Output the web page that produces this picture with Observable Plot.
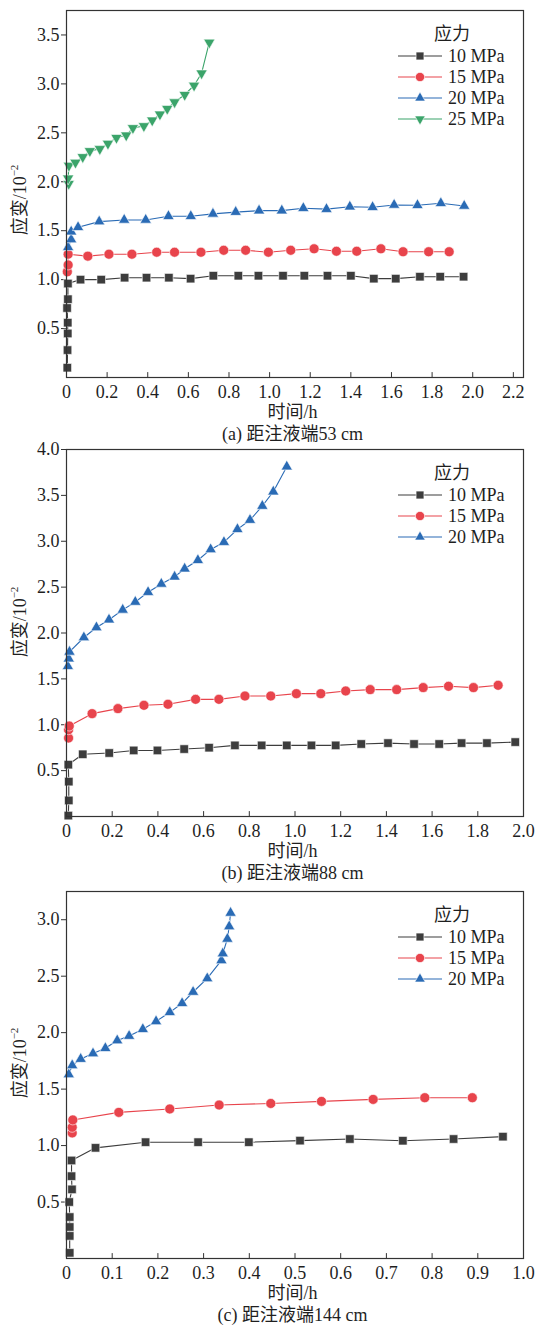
<!DOCTYPE html>
<html><head><meta charset="utf-8">
<script src="https://cdn.jsdelivr.net/npm/d3@7"></script>
<script src="https://cdn.jsdelivr.net/npm/@observablehq/plot@0.6"></script>
<style>
body{margin:0;background:#fff;}
#root{position:relative;width:538px;height:1327px;font-family:"Liberation Serif","Noto Sans CJK SC",serif;color:#1f1f1f;background:#fff;overflow:hidden;}
.abs{position:absolute;white-space:nowrap;line-height:1;font-size:18px;}
.ctr{transform:translate(-50%,-50%);}
.ylab{transform:translate(-50%,-50%) rotate(-90deg);}
.ylab sup{font-size:11px;vertical-align:0;position:relative;top:-8px;}
.plotbox{position:absolute;left:0;}
</style></head><body><div id="root"></div>
<script>
// ---------- categories / labels ----------
const pressures = ["10 MPa", "15 MPa", "20 MPa", "25 MPa"];
const colors = ["#3d3d3d", "#e8444c", "#2a6bb5", "#3ba46a"];
const legendTitle = "应力";
const xLabel = "时间/h";
const yLabelMain = "应变/10";
const yLabelSup = "−2";
const captions = ["(a) 距注液端53 cm", "(b) 距注液端88 cm", "(c) 距注液端144 cm"];

// ---------- tick values ----------
const xTicksA = [0, 0.2, 0.4, 0.6, 0.8, 1.0, 1.2, 1.4, 1.6, 1.8, 2.0, 2.2];
const yTicksA = [0.5, 1.0, 1.5, 2.0, 2.5, 3.0, 3.5];
const xTicksB = [0, 0.2, 0.4, 0.6, 0.8, 1.0, 1.2, 1.4, 1.6, 1.8, 2.0];
const yTicksB = [0.5, 1.0, 1.5, 2.0, 2.5, 3.0, 3.5, 4.0];
const xTicksC = [0, 0.1, 0.2, 0.3, 0.4, 0.5, 0.6, 0.7, 0.8, 0.9, 1.0];
const yTicksC = [0.5, 1.0, 1.5, 2.0, 2.5, 3.0];

// ---------- panel (a) 53 cm ----------
const a10t = [0.004, 0.005, 0.006, 0.006, 0.003, 0.007, 0.007, 0.069, 0.171, 0.286, 0.394, 0.504, 0.611, 0.723, 0.846, 0.945, 1.066, 1.171, 1.285, 1.400, 1.513, 1.621, 1.740, 1.840, 1.955];
const a10v = [0.10, 0.28, 0.45, 0.56, 0.71, 0.80, 0.96, 1.00, 1.00, 1.02, 1.02, 1.02, 1.01, 1.04, 1.04, 1.04, 1.04, 1.04, 1.04, 1.04, 1.01, 1.01, 1.03, 1.03, 1.03];
const a15t = [0.004, 0.008, 0.008, 0.105, 0.209, 0.322, 0.444, 0.532, 0.662, 0.774, 0.882, 0.994, 1.104, 1.219, 1.329, 1.429, 1.548, 1.657, 1.783, 1.884];
const a15v = [1.08, 1.15, 1.26, 1.24, 1.26, 1.26, 1.28, 1.28, 1.28, 1.30, 1.30, 1.28, 1.30, 1.315, 1.29, 1.29, 1.315, 1.285, 1.285, 1.285];
const a20t = [0.008, 0.023, 0.023, 0.057, 0.161, 0.284, 0.390, 0.502, 0.612, 0.721, 0.833, 0.948, 1.060, 1.166, 1.280, 1.395, 1.507, 1.613, 1.728, 1.843, 1.958];
const a20v = [1.33, 1.41, 1.49, 1.535, 1.593, 1.61, 1.61, 1.648, 1.648, 1.672, 1.69, 1.705, 1.705, 1.73, 1.72, 1.745, 1.74, 1.763, 1.76, 1.78, 1.753];
const a25t = [0.011, 0.008, 0.012, 0.044, 0.080, 0.115, 0.164, 0.204, 0.246, 0.294, 0.327, 0.381, 0.422, 0.460, 0.496, 0.532, 0.582, 0.628, 0.665, 0.703];
const a25v = [1.98, 2.035, 2.165, 2.197, 2.254, 2.315, 2.336, 2.39, 2.45, 2.475, 2.55, 2.57, 2.628, 2.689, 2.747, 2.814, 2.889, 2.984, 3.109, 3.424];

// ---------- panel (b) 88 cm ----------
const b10t = [0.008, 0.010, 0.010, 0.008, 0.071, 0.187, 0.294, 0.398, 0.515, 0.624, 0.737, 0.854, 0.964, 1.072, 1.178, 1.290, 1.407, 1.521, 1.631, 1.729, 1.840, 1.964];
const b10v = [0.01, 0.175, 0.38, 0.565, 0.678, 0.692, 0.72, 0.72, 0.735, 0.75, 0.775, 0.775, 0.775, 0.775, 0.775, 0.79, 0.80, 0.79, 0.79, 0.80, 0.80, 0.811];
const b15t = [0.009, 0.009, 0.012, 0.112, 0.225, 0.339, 0.444, 0.565, 0.667, 0.781, 0.894, 1.006, 1.113, 1.222, 1.329, 1.445, 1.561, 1.672, 1.781, 1.889];
const b15v = [0.855, 0.946, 0.986, 1.121, 1.176, 1.212, 1.223, 1.277, 1.277, 1.313, 1.313, 1.339, 1.339, 1.368, 1.383, 1.383, 1.405, 1.419, 1.405, 1.43];
const b20t = [0.006, 0.010, 0.013, 0.076, 0.131, 0.186, 0.246, 0.301, 0.357, 0.415, 0.473, 0.517, 0.575, 0.631, 0.689, 0.748, 0.803, 0.857, 0.905, 0.964];
const b20v = [1.638, 1.72, 1.794, 1.951, 2.06, 2.145, 2.252, 2.338, 2.445, 2.535, 2.612, 2.70, 2.793, 2.911, 2.99, 3.13, 3.231, 3.384, 3.54, 3.813];

// ---------- panel (c) 144 cm ----------
const c10t = [0.007, 0.007, 0.007, 0.007, 0.006, 0.012, 0.011, 0.011, 0.0635, 0.173, 0.288, 0.399, 0.511, 0.620, 0.736, 0.847, 0.955];
const c10v = [0.05, 0.20, 0.279, 0.367, 0.50, 0.612, 0.729, 0.868, 0.98, 1.03, 1.03, 1.03, 1.044, 1.058, 1.043, 1.058, 1.079];
const c15t = [0.0125, 0.0125, 0.0138, 0.1145, 0.226, 0.334, 0.447, 0.558, 0.671, 0.784, 0.888];
const c15v = [1.112, 1.162, 1.227, 1.294, 1.324, 1.359, 1.373, 1.391, 1.409, 1.424, 1.424];
const c20t = [0.005, 0.0125, 0.031, 0.058, 0.085, 0.111, 0.137, 0.167, 0.196, 0.226, 0.253, 0.277, 0.308, 0.339, 0.342, 0.352, 0.356, 0.359];
const c20v = [1.63, 1.71, 1.766, 1.815, 1.862, 1.93, 1.97, 2.03, 2.10, 2.18, 2.26, 2.36, 2.48, 2.64, 2.70, 2.83, 2.94, 3.06];

// ---------- symbols ----------
const triangleDown = {
  draw(context, size) {
    const s3 = Math.sqrt(3);
    const y = -Math.sqrt(size / (s3 * 3));
    context.moveTo(0, -y * 2);
    context.lineTo(-s3 * y, y);
    context.lineTo(s3 * y, y);
    context.closePath();
  }
};
const symbols = ["square", "circle", "triangle", triangleDown];
const d3symbols = [d3.symbolSquare, d3.symbolCircle, d3.symbolTriangle, triangleDown];
const radii = [4.8, 5.0, 4.2, 4.2];
const tickUp = { draw(context, l) { context.moveTo(0, 0); context.lineTo(0, -l); } };

const rows = (t, v) => t.map((d, i) => ({t: d, v: v[i]}));

const panels = [
  {top: 0, marginTop: 10, xDomain: [0, 2.25], yDomain: [0, 3.75], xTicks: xTicksA, yTicks: yTicksA,
   series: [rows(a10t, a10v), rows(a15t, a15v), rows(a20t, a20v), rows(a25t, a25v)], yLabelY: 200},
  {top: 440, marginTop: 9, xDomain: [0, 2.0], yDomain: [0, 4.0], xTicks: xTicksB, yTicks: yTicksB,
   series: [rows(b10t, b10v), rows(b15t, b15v), rows(b20t, b20v)], yLabelY: 622},
  {top: 880, marginTop: 11, xDomain: [0, 1.0], yDomain: [0, 3.25], xTicks: xTicksC, yTicks: yTicksC,
   series: [rows(c10t, c10v), rows(c15t, c15v), rows(c20t, c20v)], yLabelY: 1063}
];

const root = document.getElementById("root");
const frameH = 367;
const mL = 66, mR = 15, mB = 28;

function addDiv(cls, left, top, html) {
  const d = document.createElement("div");
  d.className = "abs " + cls;
  d.style.left = left + "px";
  d.style.top = top + "px";
  d.innerHTML = html;
  root.appendChild(d);
  return d;
}

panels.forEach((p, pi) => {
  const marks = [
    Plot.axisY(p.yTicks, {tickSize: 5, tickPadding: 2, tickFormat: d => d.toFixed(1), label: null, stroke: "#333"}),
    Plot.axisX(p.xTicks, {tickSize: 0, tickPadding: 8, tickFormat: d => d === 0 ? "0" : d.toFixed(1), label: null}),
    Plot.vector(p.xTicks, {x: d => d, frameAnchor: "bottom", length: 5, rotate: 0, anchor: "start", shape: tickUp, stroke: "#333", strokeWidth: 1})
  ];
  p.series.forEach((s, i) => {
    marks.push(Plot.line(s, {x: "t", y: "v", stroke: colors[i], strokeWidth: 1.1}));
  });
  p.series.forEach((s, i) => {
    marks.push(Plot.dot(s, {x: "t", y: "v", symbol: symbols[i], r: radii[i], fill: colors[i], stroke: "white", strokeWidth: 0.6}));
  });
  marks.push(Plot.frame({stroke: "#333", strokeWidth: 1.2}));

  const svg = Plot.plot({
    width: 538,
    height: p.marginTop + frameH + mB,
    marginLeft: mL, marginRight: mR, marginTop: p.marginTop, marginBottom: mB,
    style: {fontFamily: "'Liberation Serif', 'Noto Sans CJK SC', serif", fontSize: "18px", color: "#1f1f1f", background: "transparent", overflow: "visible"},
    x: {domain: p.xDomain},
    y: {domain: p.yDomain},
    marks
  });
  const box = document.createElement("div");
  box.className = "plotbox";
  box.style.top = p.top + "px";
  box.appendChild(svg);
  root.appendChild(box);

  const frameTop = p.top + p.marginTop;
  const frameBottom = frameTop + frameH;
  const cx = mL + (538 - mL - mR) / 2 - 2;

  // axis titles and caption
  addDiv("ylab", 20, p.yLabelY, `${yLabelMain}<sup>${yLabelSup}</sup>`);
  addDiv("ctr", cx, frameBottom + 35, xLabel);
  addDiv("ctr", cx, frameBottom + 57, captions[pi]);

  // legend
  addDiv("ctr", 452, frameTop + 24, legendTitle);
  p.series.forEach((s, i) => {
    const y = frameTop + 46 + 21 * i;
    const sym = d3.symbol(d3symbols[i], Math.PI * radii[i] * radii[i] * 0.85)();
    const sw = `<svg width="46" height="14" style="display:block"><line x1="1" x2="45" y1="7" y2="7" stroke="${colors[i]}" stroke-width="1.1"/><path d="${sym}" transform="translate(23,7)" fill="${colors[i]}" stroke="white" stroke-width="0.6"/></svg>`;
    addDiv("", 397, y - 7, sw);
    addDiv("", 448, y - 9, pressures[i]);
  });
});
</script>
</body></html>
